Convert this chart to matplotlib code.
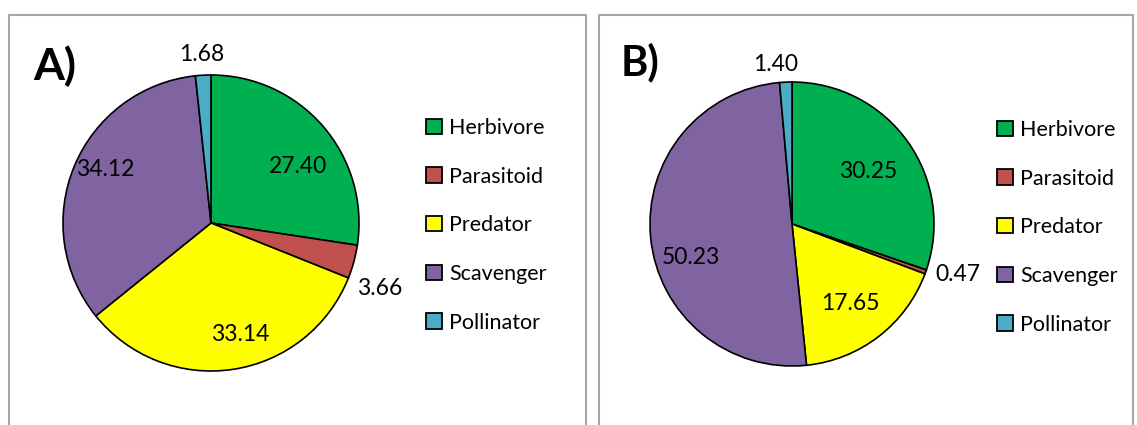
import matplotlib.pyplot as plt
from matplotlib.patches import Patch
import numpy as np

plt.rcParams['font.family'] = ['Lato', 'DejaVu Sans']

categories = ['Herbivore', 'Parasitoid', 'Predator', 'Scavenger', 'Pollinator']
values_a = [27.40, 3.66, 33.14, 34.12, 1.68]
values_b = [30.25, 0.47, 17.65, 50.23, 1.40]
colors = ['#00B050', '#C0504D', '#FFFF00', '#8064A2', '#4BACC6']

# value label placement: radius (fraction of pie radius), angle nudge in degrees
label_r_a = [0.70, 1.22, 0.78, 0.80, 1.14]
label_da_a = [-7.5, -6, 6, -4.5, 0]
label_r_b = [0.65, 1.22, 0.69, 0.75, 1.13]
label_da_b = [-1, 2.7, -1.4, 12.6, 3.5]

W, H = 1137, 425
fig = plt.figure(figsize=(W / 100, H / 100), dpi=100)


def px_axes(cx, cy, r):
    # axes square around a circle given in pixel coords (y from top)
    return fig.add_axes([(cx - r) / W, (H - cy - r) / H, 2 * r / W, 2 * r / H])


def draw_pie(ax, vals, label_r, label_da):
    wedges, _ = ax.pie(vals, colors=colors, startangle=90, counterclock=False,
                       wedgeprops=dict(edgecolor='black', linewidth=1.2))
    for w, v, rr, da in zip(wedges, vals, label_r, label_da):
        ang = np.deg2rad((w.theta1 + w.theta2) / 2 + da)
        ax.text(rr * np.cos(ang), rr * np.sin(ang), f'{v:.2f}',
                ha='center', va='center', fontsize=16.5)
    ax.set_xlim(-1, 1)
    ax.set_ylim(-1, 1)
    ax.set_aspect('auto')


ax_a = px_axes(211, 223, 148)
draw_pie(ax_a, values_a, label_r_a, label_da_a)
ax_b = px_axes(792, 224, 142)
draw_pie(ax_b, values_b, label_r_b, label_da_b)

# panel frames
gray = '#A6A6A6'
def fline(xs, ys):
    fig.add_artist(plt.Line2D([x / W for x in xs], [1 - y / H for y in ys],
                              color=gray, lw=1.5))

fline([9, 9, 586, 586], [430, 15, 15, 430])
fline([599, 599, 1133, 1133], [430, 15, 15, 430])

fig.text(33 / W, 1 - 66 / H, 'A)', fontsize=32, fontweight='bold', va='center')
fig.text(621 / W, 1 - 62 / H, 'B)', fontsize=30, fontweight='bold', va='center')

handles = [Patch(facecolor=c, edgecolor='black', linewidth=1.3) for c in colors]
for x0, y0 in [(426, 118), (997, 120)]:
    fig.legend(handles, categories, loc='upper left',
               bbox_to_anchor=(x0 / W, 1 - y0 / H), frameon=False,
               fontsize=15.5, handlelength=0.72, handleheight=0.72,
               handletextpad=0.35, labelspacing=1.33, borderpad=0,
               borderaxespad=0)

fig.savefig('out.png', dpi=100)
